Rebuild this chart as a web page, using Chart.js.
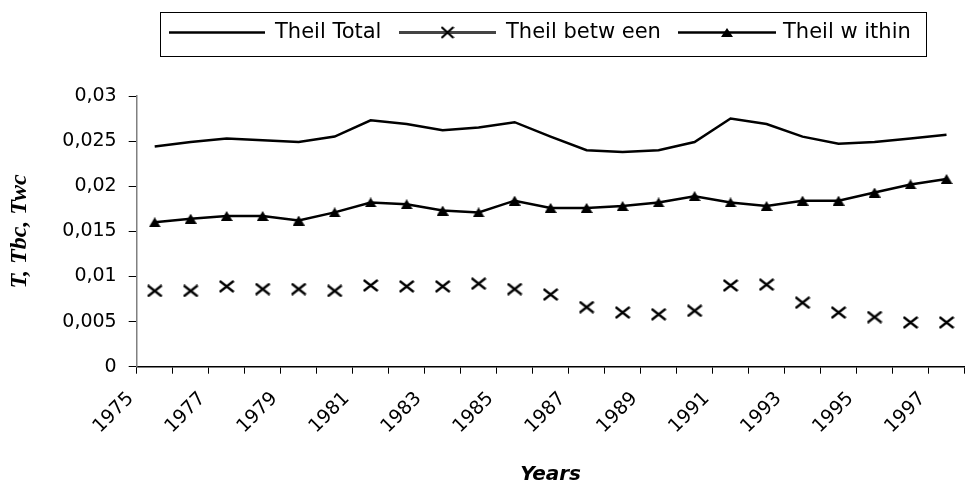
<!DOCTYPE html>
<html><head><meta charset="utf-8">
<script src="https://cdn.jsdelivr.net/npm/chart.js@4.4.0/dist/chart.umd.min.js"></script>
<style>
html,body{margin:0;padding:0;background:#fff;overflow:hidden;width:966px;height:484px}
#wrap{width:966px;height:484px;overflow:hidden;position:relative;background:#fff}
canvas{display:block}
</style></head><body>
<div id="wrap"><canvas id="c" width="972" height="484" style="width:972px;height:484px"></canvas></div>
<script>
const years = ['1975','1976','1977','1978','1979','1980','1981','1982','1983','1984','1985','1986','1987','1988','1989','1990','1991','1992','1993','1994','1995','1996','1997'];
const theilTotal = [0.0244,0.0249,0.0253,0.0251,0.0249,0.0255,0.0273,0.0269,0.0262,0.0265,0.0271,0.0255,0.0240,0.0238,0.0240,0.0249,0.0275,0.0269,0.0255,0.0247,0.0249,0.0253,0.0257];
const theilBetween = [0.0084,0.0084,0.0089,0.0086,0.0086,0.0084,0.0090,0.0089,0.0089,0.0092,0.0086,0.0080,0.0066,0.0060,0.0058,0.0062,0.0090,0.0091,0.0071,0.0060,0.0055,0.0049,0.0049];
const theilWithin = [0.0160,0.0164,0.0167,0.0167,0.0162,0.0171,0.0182,0.0180,0.0173,0.0171,0.0184,0.0176,0.0176,0.0178,0.0182,0.0189,0.0182,0.0178,0.0184,0.0184,0.0193,0.0202,0.0208];
const yTickLabels = ['0','0,005','0,01','0,015','0,02','0,025','0,03'];
const seriesNames = ['Theil Total','Theil betw een','Theil w ithin'];
const xTitle = 'Years';
const yTitle = 'T, Tbc, Twc';

function makeTriangle(w,h){
  const c=document.createElement('canvas');c.width=w;c.height=h;
  const g=c.getContext('2d');g.fillStyle='#000';
  g.beginPath();g.moveTo(w/2,0);g.lineTo(w,h);g.lineTo(0,h);g.closePath();g.fill();
  return c;
}
function makeCross(w,h,lw){
  const c=document.createElement('canvas');c.width=w;c.height=h;
  const g=c.getContext('2d');g.strokeStyle='#000';g.lineWidth=lw;
  g.beginPath();g.moveTo(1,1);g.lineTo(w-1,h-1);g.moveTo(w-1,1);g.lineTo(1,h-1);g.stroke();
  return c;
}
const triImg = makeTriangle(12,10);
const crossImg = makeCross(16,13,2.3);
const triLegend = makeTriangle(12,9);
const crossLegend = makeCross(14,13,2.2);

const legendPlugin = {
  id:'boxLegend',
  afterDraw(chart){
    const ctx = chart.ctx;
    ctx.save();
    ctx.strokeStyle='#000'; ctx.lineWidth=1;
    ctx.strokeRect(160.5,12.5,766,44);
    const y = 32.5;
    const items = [
      {x1:169,x2:265,tx:275,color:'#000',lw:2.5,marker:null},
      {x1:399,x2:496,tx:506,color:'#444',lw:3,marker:crossLegend},
      {x1:678,x2:776,tx:783,color:'#000',lw:2.5,marker:triLegend}
    ];
    items.forEach((it,i)=>{
      ctx.strokeStyle=it.color; ctx.lineWidth=it.lw;
      ctx.beginPath(); ctx.moveTo(it.x1,y); ctx.lineTo(it.x2,y); ctx.stroke();
      if(it.marker){
        const cx=(it.x1+it.x2)/2;
        ctx.drawImage(it.marker, cx-it.marker.width/2, y-it.marker.height/2);
      }
      ctx.fillStyle='#000';
      ctx.font='21px "DejaVu Sans"';
      ctx.textBaseline='alphabetic'; ctx.textAlign='left';
      ctx.fillText(chart.data.datasets[i].label, it.tx, 37.5);
    });
    ctx.restore();
  }
};

new Chart(document.getElementById('c'), {
  type:'line',
  data:{
    labels: years,
    datasets:[
      {label:seriesNames[0], data:theilTotal, borderColor:'#000', borderWidth:2.5, pointRadius:0, fill:false, tension:0},
      {label:seriesNames[1], data:theilBetween, showLine:false, borderColor:'#000', pointStyle:crossImg, pointRadius:5},
      {label:seriesNames[2], data:theilWithin, borderColor:'#000', borderWidth:2.5, pointStyle:triImg, pointRadius:5, fill:false, tension:0}
    ]
  },
  options:{
    responsive:false, animation:false, devicePixelRatio:1,
    layout:{padding:{top:96,left:0,right:0,bottom:0}},
    plugins:{legend:{display:false}, tooltip:{enabled:false}},
    scales:{
      x:{
        type:'category', offset:true,
        grid:{display:true, offset:true, drawOnChartArea:false, drawTicks:true, tickLength:7, color:'#000', lineWidth:1},
        border:{display:true, color:'#000', width:1.5},
        ticks:{autoSkip:false, maxRotation:45, minRotation:45, labelOffset:-24, padding:14, color:'#000',
          font:{family:'DejaVu Sans', size:19},
          callback:function(v,i){ return i%2===0 ? years[i] : ''; }},
        title:{display:true, text:xTitle, color:'#000', font:{family:'DejaVu Sans', size:20, style:'italic', weight:'bold', lineHeight:1}, padding:{top:0,bottom:-1}},
        afterFit:function(s){ s.height = 117.3; s.paddingLeft = 0; s.paddingRight = 0; }
      },
      y:{
        min:0, max:0.03,
        grid:{display:true, drawOnChartArea:false, drawTicks:true, tickLength:8, color:'#000', lineWidth:1},
        border:{display:true, color:'#808080', width:1.5},
        ticks:{stepSize:0.005, padding:12, color:'#000', font:{family:'DejaVu Sans', size:19},
          callback:function(v,i){ return yTickLabels[i]; }},
        title:{display:true, text:yTitle, color:'#000', font:{family:'Liberation Serif', size:24, style:'italic', weight:'bold'}, padding:{top:5,bottom:0}},
        afterFit:function(s){ s.width = 136.7; s.paddingTop = 0; s.paddingBottom = 0; }
      }
    }
  },
  plugins:[legendPlugin]
});
</script>
</body></html>
